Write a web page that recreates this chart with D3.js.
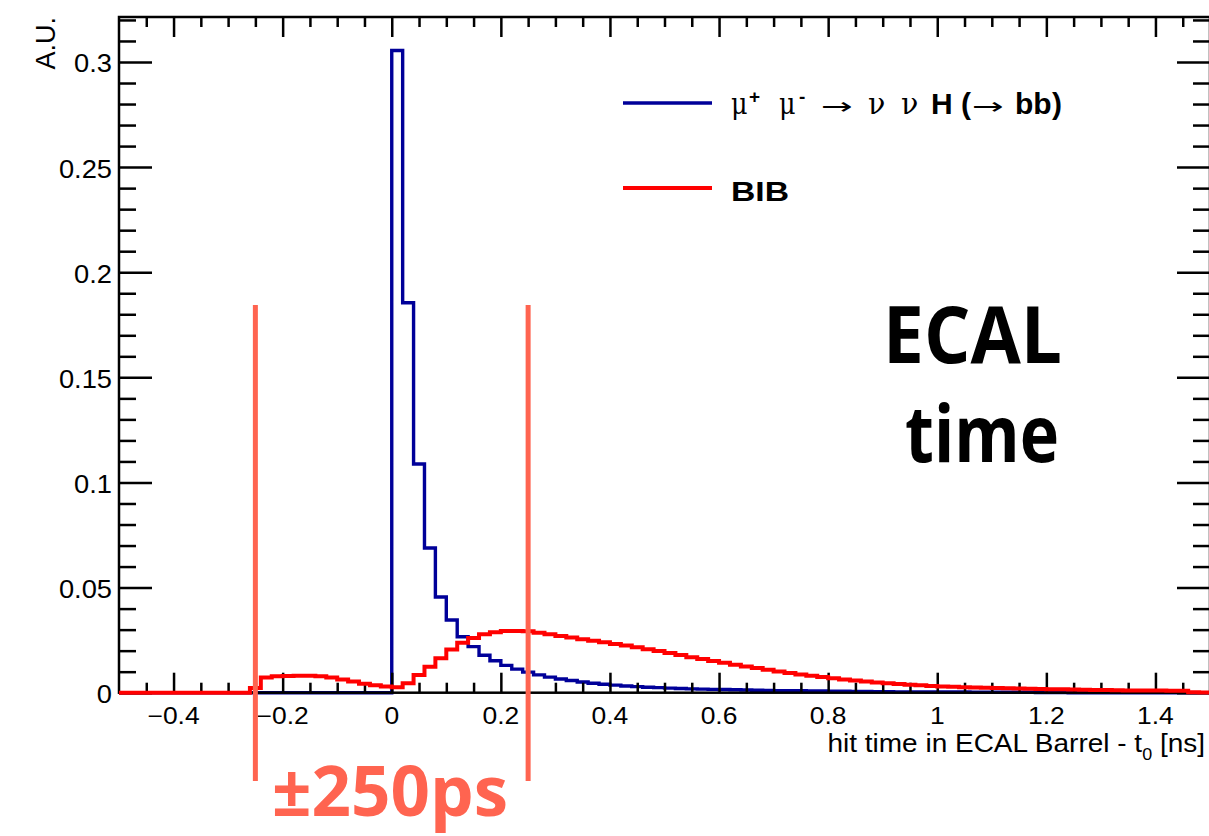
<!DOCTYPE html>
<html><head><meta charset="utf-8">
<script src="https://cdn.jsdelivr.net/npm/d3@7"></script>
<style>body{margin:0;background:#fff} svg{display:block}</style>
</head><body><svg id="c" width="1209" height="836"></svg>
<script>
// ---- data ----
const binStart = -0.5, binWidth = 0.02, nBins = 100;
// signal: mu+ mu- -> nu nu H(->bb), 100 bins from -0.5 to 1.5 ns
const signal = [
  0,0,0,0,0,0,0,0,0,0,0,0,0,0,0,0,0,0,0,0,0,0,0,0,0,
  0.3055,0.1855,0.1088,0.0688,0.0455,0.0346,0.0266,0.0219,0.0178,0.0152,
  0.0130,0.0112,0.0098,0.0085,0.0074,0.0065,0.0058,0.0051,0.0045,0.0040,
  0.0036,0.0032,0.0029,0.0026,0.0024,0.0022,0.0020,0.0018,0.0017,0.0016,
  0.0015,0.0014,0.0013,0.0012,0.0011,0.0010,0.0009,0.0009,0.0008,0.0008,
  0.0007,0.0007,0.0006,0.0006,0.0005,0.0005,0.0004,0.0004,0.0004,0.0003,
  0.0003,0.0003,0.0003,0.0002,0.0002,0.0002,0.0002,0.0002,0.0002,0.0001,0.0001,0.0001,
  0,0,0,0,0,0,0,0,0,0,0,0,0
];
// BIB
const bib = [
  0,0,0,0,0,0,0,0,0,0,0,0,
  0.0022,0.0072,0.0078,0.0080,0.0081,0.0081,0.0078,0.0072,0.0063,0.0053,0.0043,0.0035,0.0029,
  0.0026,0.0045,0.0084,0.0124,0.0164,0.0206,0.0238,0.0260,0.0278,0.0288,
  0.0293,0.0294,0.0292,0.0285,0.0278,0.0270,0.0262,0.0254,0.0247,0.0240,
  0.0232,0.0224,0.0216,0.0207,0.0198,0.0189,0.0179,0.0169,0.0160,0.0151,
  0.0142,0.0133,0.0125,0.0117,0.0109,0.0101,0.0094,0.0087,0.0081,0.0075,
  0.0069,0.0063,0.0058,0.0053,0.0049,0.0045,0.0041,0.0038,0.0035,0.0032,
  0.0030,0.0028,0.0026,0.0025,0.0023,0.0022,0.0021,
  0.0020,0.0019,0.0018,0.0017,0.0016,
  0.0015,0.0014,0.0013,0.0013,0.0012,0.0011,0.0011,0.0010,0.0010,0.0009,0.0009,
  0.0002,0.0001
];
const xMajorTicks = [-0.4,-0.2,0,0.2,0.4,0.6,0.8,1,1.2,1.4];
const xTickLabels = ["\u22120.4","\u22120.2","0","0.2","0.4","0.6","0.8","1","1.2","1.4"];
const yMajorTicks = [0,0.05,0.1,0.15,0.2,0.25,0.3];
const yTickLabels = ["0","0.05","0.1","0.15","0.2","0.25","0.3"];
const windowEdges = [-0.25, 0.25];
const xTitle = "hit time in ECAL Barrel - t";
const yTitle = "A.U.";

// ---- layout ----
const svg = d3.select("#c");
const L = 119, R = 1210, T = 17, B = 692.7;
const x = d3.scaleLinear([-0.5, 1.5], [L, R]);
const y = d3.scaleLinear([0, 0.3214], [B, T]);
const BLUE = "#000099", RED = "#ff0000", CORAL = "#ff6450";

const edges = d3.range(nBins + 1).map(i => +(binStart + i * binWidth).toFixed(3));
function histPath(vals) {
  const pts = vals.map((v, i) => [edges[i], v]);
  pts.push([edges[nBins], vals[nBins - 1]]);
  return d3.line().x(d => x(d[0])).y(d => y(d[1])).curve(d3.curveStepAfter)(pts);
}

// blue histogram first (axes are drawn over it, as in ROOT)
svg.append("path").attr("d", histPath(signal))
  .attr("fill", "none").attr("stroke", BLUE).attr("stroke-width", 3.4)
  .attr("stroke-linejoin", "miter");

// ---- axes ----
const xMinor = d3.range(-45, 150, 5).map(v => v / 100).filter(v => Math.round(v * 100) % 20 !== 0);
const yMinor = d3.range(1, 33, 1).map(v => v / 100).filter(v => Math.round(v * 100) % 5 !== 0);

const axG = svg.append("g").attr("class", "axes");
function styleAxis(g) {
  g.select(".domain").remove();
  g.selectAll("line").attr("stroke", "#000").attr("stroke-width", 2.5);
  g.selectAll("text").remove();
}
axG.append("g").attr("transform", `translate(0,${B})`)
  .call(d3.axisBottom(x).tickValues(xMajorTicks).tickSize(-20).tickSizeOuter(0)).call(styleAxis);
axG.append("g").attr("transform", `translate(0,${B})`)
  .call(d3.axisBottom(x).tickValues(xMinor).tickSize(-10).tickSizeOuter(0)).call(styleAxis);
axG.append("g").attr("transform", `translate(0,${T})`)
  .call(d3.axisTop(x).tickValues(xMajorTicks).tickSize(-20).tickSizeOuter(0)).call(styleAxis);
axG.append("g").attr("transform", `translate(0,${T})`)
  .call(d3.axisTop(x).tickValues(xMinor).tickSize(-10).tickSizeOuter(0)).call(styleAxis);
axG.append("g").attr("transform", `translate(${L},0)`)
  .call(d3.axisLeft(y).tickValues(yMajorTicks).tickSize(-33).tickSizeOuter(0)).call(styleAxis);
axG.append("g").attr("transform", `translate(${L},0)`)
  .call(d3.axisLeft(y).tickValues(yMinor).tickSize(-17).tickSizeOuter(0)).call(styleAxis);
axG.append("g").attr("transform", `translate(${R},0)`)
  .call(d3.axisRight(y).tickValues(yMajorTicks).tickSize(-33).tickSizeOuter(0)).call(styleAxis);
axG.append("g").attr("transform", `translate(${R},0)`)
  .call(d3.axisRight(y).tickValues(yMinor).tickSize(-17).tickSizeOuter(0)).call(styleAxis);
axG.append("rect").attr("x", L).attr("y", T).attr("width", R - L).attr("height", B - T)
  .attr("fill", "none").attr("stroke", "#000").attr("stroke-width", 2.5);

// tick labels
const labFont = "'Liberation Sans', Arial, Helvetica, sans-serif";
xMajorTicks.forEach((v, i) => {
  svg.append("text").attr("transform", `translate(${x(v)},724) scale(1.15,1)`)
    .attr("text-anchor", "middle").attr("font-family", labFont).attr("font-size", 23)
    .attr("fill", "#000").text(xTickLabels[i]);
});
yMajorTicks.forEach((v, i) => {
  svg.append("text").attr("transform", `translate(112,${y(v) + 10.5}) scale(1.05,1)`)
    .attr("text-anchor", "end").attr("font-family", labFont).attr("font-size", 26)
    .attr("fill", "#000").text(yTickLabels[i]);
});
// axis titles
const xt = svg.append("text").attr("transform", "translate(1205,752) scale(1.12,1)")
  .attr("text-anchor", "end").attr("font-family", labFont).attr("font-size", 25).attr("fill", "#000");
xt.append("tspan").text(xTitle);
xt.append("tspan").attr("font-size", 16).attr("dy", 8).text("0");
xt.append("tspan").attr("dy", -8).text(" [ns]");

svg.append("text").attr("transform", "translate(55,17) rotate(-90)")
  .attr("text-anchor", "end").attr("font-family", labFont).attr("font-size", 27)
  .attr("fill", "#000").text(yTitle);

// red histogram on top
svg.append("path").attr("d", histPath(bib))
  .attr("fill", "none").attr("stroke", RED).attr("stroke-width", 4)
  .attr("stroke-linejoin", "miter");

// ---- legend ----
const legendItems = [
  {color: BLUE, y: 103, w: 3.4},
  {color: RED, y: 188, w: 4}
];
legendItems.forEach(d => {
  svg.append("line").attr("x1", 623).attr("x2", 712).attr("y1", d.y).attr("y2", d.y)
    .attr("stroke", d.color).attr("stroke-width", d.w);
});
const serif = "'DejaVu Serif', 'Liberation Serif', serif";
const sans = "'DejaVu Sans', sans-serif";
const sansB = "'Liberation Sans', Arial, sans-serif";
const pieces = [
  {t: "\u03bc", x: 731, f: serif, w: "normal", s: 30, sx: 0.85},
  {t: "+", x: 749, f: sansB, w: "bold", s: 19, dy: -11, sx: 1},
  {t: "\u03bc", x: 779, f: serif, w: "normal", s: 30, sx: 0.85},
  {t: "-", x: 799, f: sansB, w: "bold", s: 19, dy: -11, sx: 1},
  {t: "\u2192", x: 821, f: sans, w: "normal", s: 23, sx: 1.65},
  {t: "\u03bd", x: 868, f: serif, w: "normal", s: 30, sx: 0.95},
  {t: "\u03bd", x: 901, f: serif, w: "normal", s: 30, sx: 0.95},
  {t: "H", x: 931, f: sansB, w: "bold", s: 30, sx: 1},
  {t: "(", x: 961, f: sansB, w: "bold", s: 30, sx: 1},
  {t: "\u2192", x: 972, f: sans, w: "normal", s: 23, sx: 1.65},
  {t: "bb", x: 1015, f: sansB, w: "bold", s: 30, sx: 1},
  {t: ")", x: 1052, f: sansB, w: "bold", s: 30, sx: 1}
];
pieces.forEach(p => {
  svg.append("text")
    .attr("transform", `translate(${p.x},${114 + (p.dy || 0)}) scale(${p.sx},1)`)
    .attr("font-family", p.f).attr("font-weight", p.w)
    .attr("font-size", p.s).attr("fill", "#000").text(p.t);
});
svg.append("text").attr("x", 731).attr("y", 201).attr("font-family", sansB)
  .attr("font-weight", "bold").attr("font-size", 28).attr("textLength", 58)
  .attr("lengthAdjust", "spacingAndGlyphs").attr("fill", "#000").text("BIB");

// ---- annotations ----
windowEdges.forEach(v => {
  svg.append("line").attr("x1", x(v)).attr("x2", x(v)).attr("y1", 305).attr("y2", 781)
    .attr("stroke", CORAL).attr("stroke-width", 5);
});
const annFont = "'Open Sans', 'Noto Sans', sans-serif";
svg.append("text").attr("x", 272).attr("y", 816).attr("font-family", annFont)
  .attr("font-weight", "bold").attr("font-size", 70).attr("fill", CORAL)
  .attr("textLength", 236).attr("lengthAdjust", "spacingAndGlyphs").text("\u00b1250ps");
svg.append("text").attr("x", 883).attr("y", 363).attr("font-family", annFont)
  .attr("font-weight", "bold").attr("font-size", 79).attr("fill", "#000")
  .attr("textLength", 179).attr("lengthAdjust", "spacingAndGlyphs").text("ECAL");
svg.append("text").attr("x", 905).attr("y", 462).attr("font-family", annFont)
  .attr("font-weight", "bold").attr("font-size", 79).attr("fill", "#000")
  .attr("textLength", 154).attr("lengthAdjust", "spacingAndGlyphs").text("time");
</script></body></html>
